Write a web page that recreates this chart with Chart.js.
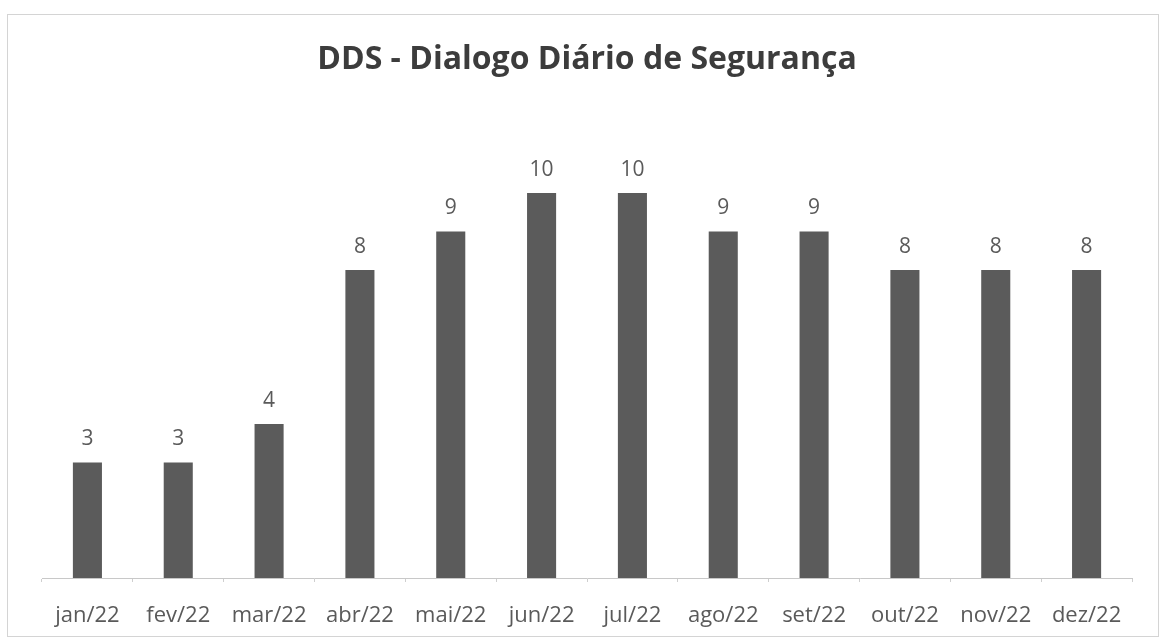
<!DOCTYPE html>
<html>
<head>
<meta charset="utf-8">
<script src="https://cdn.jsdelivr.net/npm/chart.js@4/dist/chart.umd.min.js"></script>
<style>
html,body{margin:0;padding:0;background:#fff;}
#wrap{width:1161px;height:640px;position:relative;}
</style>
</head>
<body>
<div id="wrap"><canvas id="c" width="1161" height="640"></canvas></div>
<script>
const categories = ['jan/22','fev/22','mar/22','abr/22','mai/22','jun/22','jul/22','ago/22','set/22','out/22','nov/22','dez/22'];
const values = [3,3,4,8,9,10,10,9,9,8,8,8];
const chartTitle = 'DDS - Dialogo Diário de Segurança';

const borderPlugin = {
  id: 'frame',
  beforeDraw(chart) {
    const ctx = chart.ctx;
    ctx.save();
    ctx.fillStyle = '#fff';
    ctx.fillRect(0, 0, chart.width, chart.height);
    ctx.strokeStyle = '#d4d4d4';
    ctx.lineWidth = 1;
    ctx.strokeRect(7.5, 14.5, 1151, 622);
    ctx.restore();
  }
};

const labelPlugin = {
  id: 'valueLabels',
  afterDatasetsDraw(chart) {
    const ctx = chart.ctx;
    const meta = chart.getDatasetMeta(0);
    ctx.save();
    ctx.font = '21px "Open Sans", sans-serif';
    ctx.fillStyle = '#5a5a5a';
    ctx.textAlign = 'center';
    ctx.textBaseline = 'middle';
    meta.data.forEach((bar, i) => {
      ctx.fillText(String(values[i]), bar.x, bar.y - 23);
    });
    ctx.restore();
  }
};

new Chart(document.getElementById('c'), {
  type: 'bar',
  data: {
    labels: categories,
    datasets: [{
      data: values,
      backgroundColor: '#5b5b5b',
      barPercentage: 0.32,
      categoryPercentage: 1.0
    }]
  },
  options: {
    responsive: false,
    animation: false,
    layout: { padding: { left: 42, right: 29, top: 0, bottom: 0 } },
    plugins: {
      legend: { display: false },
      tooltip: { enabled: false },
      title: {
        display: true,
        text: chartTitle,
        color: '#3c3c3c',
        font: { family: '"Open Sans", sans-serif', size: 32, weight: 'bold' },
        padding: { top: 41, bottom: 36.6 }
      }
    },
    scales: {
      x: {
        afterFit(scale) { scale.height = 62; },
        grid: { display: true, drawOnChartArea: false, drawTicks: true, tickLength: 4, color: '#cfcfcf', offset: true },
        border: { display: true, color: '#c8c8c8', width: 1 },
        ticks: { color: '#5a5a5a', font: { family: '"Open Sans", sans-serif', size: 22 }, padding: 21, maxRotation: 0, autoSkip: false }
      },
      y: {
        display: false,
        min: 0,
        max: 12
      }
    }
  },
  plugins: [borderPlugin, labelPlugin]
});
</script>
</body>
</html>
